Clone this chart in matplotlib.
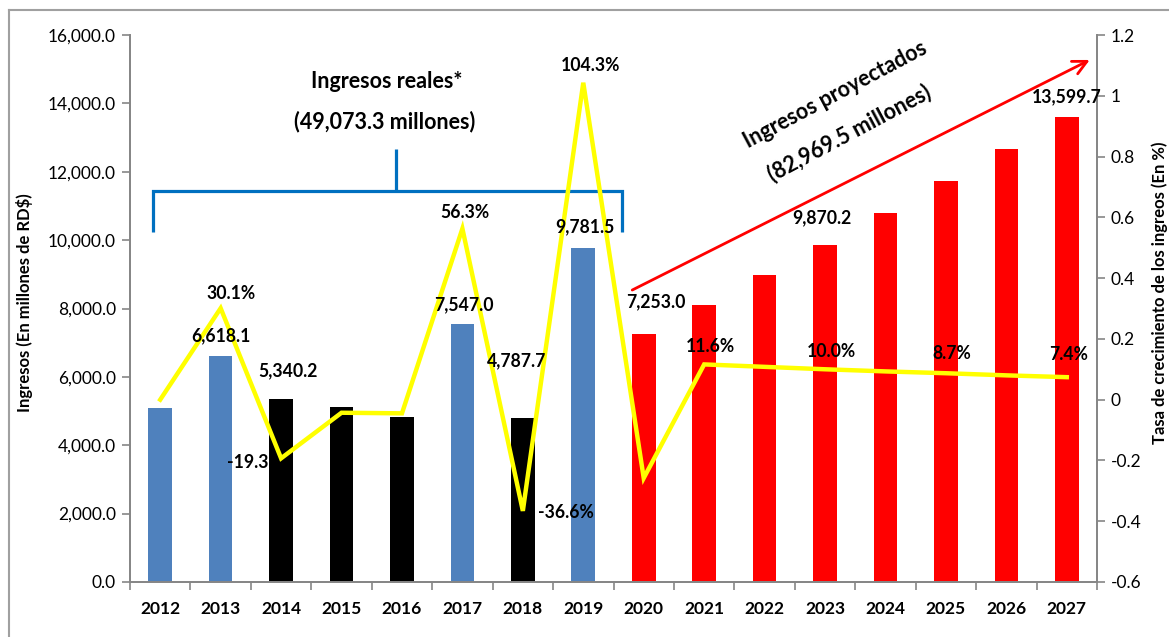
import matplotlib
matplotlib.use('Agg')
import matplotlib.pyplot as plt
from matplotlib.ticker import FuncFormatter, FixedLocator, MultipleLocator
from matplotlib.lines import Line2D

plt.rcParams['font.family'] = ['Lato', 'DejaVu Sans']
plt.rcParams['axes.unicode_minus'] = False

# ---- data ----
years = ['2012', '2013', '2014', '2015', '2016', '2017', '2018', '2019',
         '2020', '2021', '2022', '2023', '2024', '2025', '2026', '2027']
ingresos = [5087.0, 6618.1, 5340.2, 5110.0, 4840.0, 7547.0, 4787.7, 9781.5,
            7253.0, 8094.3, 8972.9, 9870.2, 10788.0, 11726.0, 12664.0, 13599.7]
crecimiento = [0.0, 0.301, -0.193, -0.043, -0.045, 0.563, -0.366, 1.043,
               -0.258, 0.116, 0.108, 0.100, 0.093, 0.087, 0.080, 0.074]
bar_colors = ['#4F81BD', '#4F81BD', '#000000', '#000000', '#000000', '#4F81BD',
              '#000000', '#4F81BD'] + ['#FF0000'] * 8

value_label_idx = [1, 2, 5, 6, 7, 8, 11, 15]
growth_label_idx = [1, 2, 5, 6, 7, 9, 11, 13, 15]
growth_label_text = ['30.1%', '-19.3', '56.3%', '-36.6%', '104.3%',
                     '11.6%', '10.0%', '8.7%', '7.4%']

# label offsets in pixels (dx, dy up)
value_offsets = {1: (0, 20), 2: (7, 29), 5: (1, 19), 6: (-6, 58), 7: (2, 21),
                 8: (12, 32), 11: (-3, 27), 15: (0, 20)}
growth_offsets = {1: (10, 15), 2: (-33, -4), 5: (2, 16), 6: (43, -2), 7: (7, 17),
                  9: (6, 18), 11: (6, 18), 13: (6, 20), 15: (2, 23)}

W, H = 1169, 637
fig = plt.figure(figsize=(W / 100, H / 100), dpi=100)
ax = fig.add_axes([130 / W, 1 - 582 / H, 967 / W, 547 / H])
ax2 = ax.twinx()

x = list(range(len(years)))
ax.bar(x, ingresos, width=0.39, color=bar_colors, zorder=2)
ax.set_xlim(-0.5, len(years) - 0.5)
ax.set_ylim(0, 16000)
ax.yaxis.set_major_locator(MultipleLocator(2000))
ax.yaxis.set_major_formatter(FuncFormatter(lambda v, p: f'{v:,.1f}'))
ax.set_xticks(x)
ax.set_xticklabels(years, fontsize=12.5, fontweight='bold')
ax.tick_params(axis='x', length=0, pad=14)
ax.xaxis.set_minor_locator(FixedLocator([i - 0.5 for i in range(len(years) + 1)]))
ax.tick_params(axis='x', which='minor', length=6, color='#868686', width=1.2)
ax.tick_params(axis='y', length=6, color='#868686', width=1.2, labelsize=12.5, pad=4)

spine_c = '#868686'
for a in (ax, ax2):
    a.spines['top'].set_visible(False)
    for s in ('left', 'right', 'bottom'):
        a.spines[s].set_color(spine_c)
        a.spines[s].set_linewidth(1.3)

ax.set_ylabel('Ingresos (En millones de RD$)', fontsize=12, fontweight='bold')
ax.yaxis.label.set_ha('center')
ax.yaxis.label.set_va('center')
ax.yaxis.set_label_coords((25 - 130) / 967, (582 - 303) / 547)

ax2.plot(x, crecimiento, color='#FFFF00', lw=3.2, zorder=3, solid_joinstyle='miter')
ax2.set_ylim(-0.6, 1.2)
ax2.yaxis.set_major_locator(FixedLocator([-0.6, -0.4, -0.2, 0, 0.2, 0.4, 0.6, 0.8, 1.0, 1.2]))
ax2.yaxis.set_major_formatter(FuncFormatter(lambda v, p: f'{round(v, 1):g}' if abs(v) > 1e-9 else '0'))
ax2.tick_params(axis='y', length=6, color=spine_c, width=1.2, labelsize=12.5, pad=4)
ax2.set_ylabel('Tasa de crecimiento de los ingreos (En %)', fontsize=12, fontweight='bold',
               rotation=90)
ax2.yaxis.label.set_ha('center')
ax2.yaxis.label.set_va('center')
ax2.yaxis.label.set_rotation_mode('anchor')
ax2.yaxis.set_label_coords((1160 - 130) / 967, (582 - 293) / 547)

px = 0.72  # pixels -> points

for i in value_label_idx:
    dx, dy = value_offsets[i]
    ax2.annotate(f'{ingresos[i]:,.1f}', xy=(x[i], ingresos[i]), xycoords=ax.transData,
                 xytext=(dx * px, dy * px), textcoords='offset points',
                 ha='center', va='center', fontsize=12.7, fontweight='bold', zorder=5)

for i, t in zip(growth_label_idx, growth_label_text):
    dx, dy = growth_offsets[i]
    ax2.annotate(t, xy=(x[i], crecimiento[i]), xycoords='data',
                 xytext=(dx * px, dy * px), textcoords='offset points',
                 ha='center', va='center', fontsize=12.7, fontweight='bold', zorder=5)

# bracket "Ingresos reales"
bc = '#0070C0'
ax.plot([-0.119, -0.119, 7.646, 7.646], [10240, 11440, 11440, 10240], color=bc, lw=2.3,
        solid_capstyle='butt', solid_joinstyle='miter', zorder=1)
ax.plot([3.904, 3.904], [11440, 12660], color=bc, lw=2.3, solid_capstyle='butt', zorder=1)
ax.text(3.74, 14650, 'Ingresos reales*', ha='center', va='center', fontsize=15.5, fontweight='bold')
ax.text(3.71, 13480, '(49,073.3 millones)', ha='center', va='center', fontsize=15.5, fontweight='bold')

# red arrow "Ingresos proyectados"
ax.annotate('', xy=(15.38, 15270), xytext=(7.81, 8540),
            arrowprops=dict(arrowstyle='->', color='#FF0000', lw=2.0, mutation_scale=25,
                            shrinkA=0, shrinkB=0), zorder=4)
ax.text(11.17, 14240, 'Ingresos proyectados', ha='center', va='center', fontsize=15.5,
        fontweight='bold', rotation=28, rotation_mode='anchor')
ax.text(11.40, 13130, '(82,969.5 millones)', ha='center', va='center', fontsize=15.5,
        fontweight='bold', rotation=28, rotation_mode='anchor')

# outer frame (top and left visible)
fig.add_artist(Line2D([9 / W, 9 / W], [0, 1 - 10 / H], transform=fig.transFigure,
                      color='#A0A0A0', lw=1.5))
fig.add_artist(Line2D([9 / W, 1], [1 - 10 / H, 1 - 10 / H], transform=fig.transFigure,
                      color='#A0A0A0', lw=1.5))

fig.savefig('out.png', dpi=100)
